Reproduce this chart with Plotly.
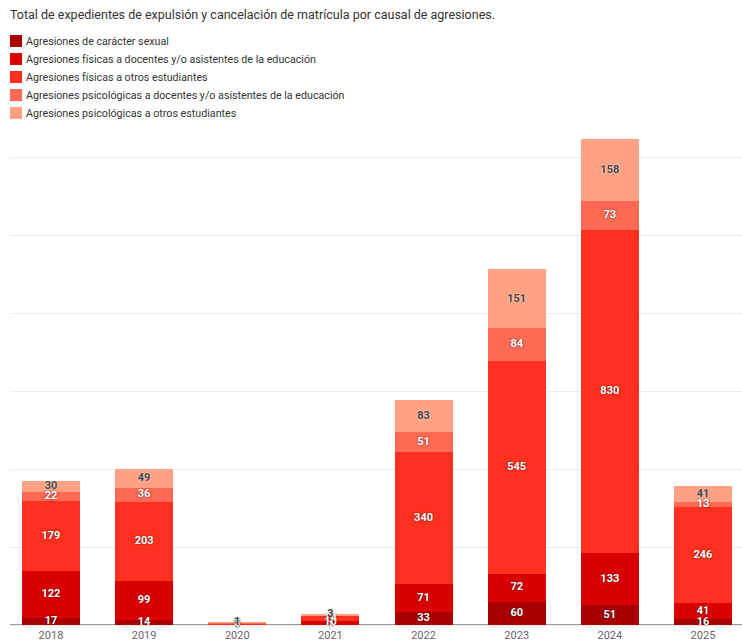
import plotly.graph_objects as go

years = ["2018", "2019", "2020", "2021", "2022", "2023", "2024", "2025"]

series_names = [
    "Agresiones de carácter sexual",
    "Agresiones físicas a docentes y/o asistentes de la educación",
    "Agresiones físicas a otros estudiantes",
    "Agresiones psicológicas a docentes y/o asistentes de la educación",
    "Agresiones psicológicas a otros estudiantes",
]

sexual = [17, 14, 1, 1, 33, 60, 51, 16]
fisicas_docentes = [122, 99, 1, 10, 71, 72, 133, 41]
fisicas_estudiantes = [179, 203, 3, 14, 340, 545, 830, 246]
psicologicas_docentes = [22, 36, 1, 0, 51, 84, 73, 13]
psicologicas_estudiantes = [30, 49, 1, 3, 83, 151, 158, 41]

series_values = [sexual, fisicas_docentes, fisicas_estudiantes,
                 psicologicas_docentes, psicologicas_estudiantes]

colors = ["#a80000", "#d90000", "#ff3020", "#ff6a55", "#ffa183"]
label_colors = ["#ffffff", "#ffffff", "#ffffff", "#ffffff", "#444444"]
label_shadows = ["0px 0px 2px rgba(0,0,0,0.75)"] * 4 + ["0px 0px 2px rgba(255,255,255,0.9)"]

W, H = 742, 641
ML, MR, MT, MB = 10, 0, 130, 14
PW, PH = W - ML - MR, H - MT - MB
PX_PER_UNIT = 0.39          # 200 units per 78 px gridline step
BASE_PAD = 2                # px of plot area kept below the zero line


def px_x(x):
    return (x - ML) / PW


def px_y(y):
    return (H - MB - y) / PH


fig = go.Figure()

# Stacked bars
for name, vals, col in zip(series_names, series_values, colors):
    fig.add_trace(go.Bar(
        name=name, x=years, y=vals,
        marker=dict(color=col, line=dict(width=0)),
        width=0.623, showlegend=False,
    ))

# Segment labels, drawn on top of every bar
base = [0] * len(years)
for name, vals, lcol, sh in zip(series_names, series_values, label_colors, label_shadows):
    mids = [b + v / 2 for b, v in zip(base, vals)]
    fig.add_trace(go.Scatter(
        x=years, y=mids, mode="text",
        text=[str(v) if v > 0 else "" for v in vals],
        textposition="middle center",
        textfont=dict(family="Roboto", size=11, color=lcol, weight="bold", shadow=sh),
        cliponaxis=False, hoverinfo="skip", showlegend=False,
    ))
    base = [b + v for b, v in zip(base, vals)]

# Baseline under the bars
shapes = [dict(
    type="line", xref="paper", yref="y", x0=0, x1=1, y0=0, y1=0,
    line=dict(color="#9a9a9a", width=2), layer="below",
)]

# Legend drawn as swatches with labels
annotations = []
for i, (name, col) in enumerate(zip(series_names, colors)):
    cy = 41 + 18 * i
    shapes.append(dict(
        type="rect", xref="paper", yref="paper",
        x0=px_x(10), x1=px_x(22), y0=px_y(cy + 6), y1=px_y(cy - 6),
        fillcolor=col, line=dict(width=0),
    ))
    annotations.append(dict(
        xref="paper", yref="paper", x=px_x(24), y=px_y(cy),
        xanchor="left", yanchor="middle", showarrow=False,
        text=name, font=dict(family="Roboto", size=10.7, color="#333333"),
    ))

fig.update_layout(
    width=W, height=H,
    margin=dict(l=ML, r=MR, t=MT, b=MB, autoexpand=False),
    paper_bgcolor="white", plot_bgcolor="white",
    barmode="stack",
    title=dict(
        text="Total de expedientes de expulsión y cancelación de matrícula por causal de agresiones.",
        x=10 / W, y=1 - 15 / H, xanchor="left", yanchor="middle",
        font=dict(family="Roboto", size=12.5, color="#333333"),
    ),
    xaxis=dict(
        type="category", range=[-0.440, 7.419],
        showgrid=False, showline=False, ticks="",
        tickfont=dict(family="Roboto", size=11, color="#666666"),
        fixedrange=True,
    ),
    yaxis=dict(
        range=[-BASE_PAD / PX_PER_UNIT, (PH - BASE_PAD) / PX_PER_UNIT],
        dtick=200, tick0=0,
        showgrid=True, gridcolor="#ebebeb", gridwidth=1,
        zeroline=False,
        showticklabels=False, ticks="",
    ),
    shapes=shapes,
    annotations=annotations,
    font=dict(family="Roboto"),
)

fig.write_html("out.html")
